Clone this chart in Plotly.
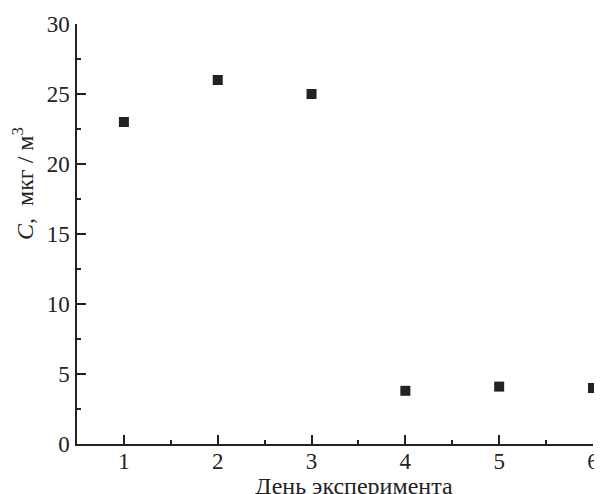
import plotly.graph_objects as go

days = [1, 2, 3, 4, 5, 6]
conc = [23.0, 26.0, 25.0, 3.8, 4.1, 4.0]
x_title = "День эксперимента"
y_title = "<i>C</i>,\u00a0\u00a0мкг\u00a0/\u00a0м<sup>3</sup>"

font_family = "Liberation Serif, DejaVu Serif, serif"
fsize = 23
ink = "#222222"

fig = go.Figure()
fig.add_trace(go.Scatter(
    x=days, y=conc, mode="markers",
    marker=dict(symbol="square", size=10, color=ink, line=dict(width=0)),
    showlegend=False, cliponaxis=False,
))

axis_common = dict(
    showline=True, linecolor=ink, linewidth=1.5,
    ticks="inside", tickcolor=ink, tickwidth=1.5, ticklen=9,
    showgrid=False, zeroline=False, mirror=False, automargin=False,
    tickfont=dict(family=font_family, size=fsize, color=ink),
)

# page body has an 8px margin, so the figure is 8px smaller than the window
fig.update_layout(
    width=594, height=486,
    margin=dict(l=69, r=9, t=16, b=50),
    paper_bgcolor="white", plot_bgcolor="white",
    font=dict(family=font_family, color=ink, size=fsize),
    xaxis=dict(
        range=[0.5, 6.0], tickvals=days, ticktext=[str(d) for d in days],
        minor=dict(dtick=0.5, tick0=0.5, ticks="inside", ticklen=4, tickwidth=1.5, tickcolor=ink),
        ticklabelstandoff=-4,
        **axis_common,
    ),
    yaxis=dict(
        range=[0, 30], dtick=5, tick0=0,
        minor=dict(dtick=2.5, tick0=0, ticks="inside", ticklen=4, tickwidth=1.5, tickcolor=ink),
        ticklabelstandoff=1,
        **axis_common,
    ),
    annotations=[
        dict(text=x_title, xref="paper", yref="paper", x=0.537, y=-0.1,
             xanchor="center", yanchor="middle", showarrow=False,
             font=dict(family=font_family, size=24, color=ink)),
        dict(text=y_title, xref="paper", yref="paper", x=-0.105, y=0.621,
             xanchor="center", yanchor="middle", showarrow=False, textangle=-90,
             font=dict(family=font_family, size=24, color=ink)),
    ],
)

fig.write_html("out.html")
